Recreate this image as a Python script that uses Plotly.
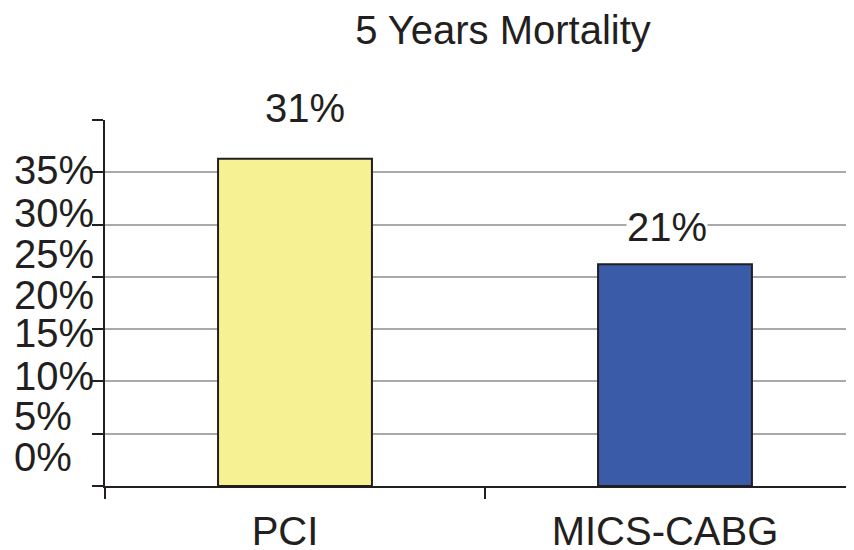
import plotly.graph_objects as go

# ---- data ----
categories = ["PCI", "MICS-CABG"]
mortality = [31.3, 21.2]            # bar heights (% of axis)
value_labels = ["31%", "21%"]
bar_colors = ["#F6F193", "#3A5BA8"]

y_range = [0, 35]
y_tick_vals = [0, 5, 10, 15, 20, 25, 30, 35]
y_label_texts = ["35%", "30%", "25%", "20%", "15%", "10%", "5%", "0%"]
# where the (misplaced) y labels sit, in axis units
y_label_pos = [30.2, 26.1, 22.2, 18.3, 14.6, 10.5, 6.65, 2.75]

# bar value label placement (axis units)
val_label_x = [0.026, 0.98]
val_label_y = [36.15, 24.8]

FONT = "Liberation Sans, Arial, Helvetica, sans-serif"
TXT = "#231f20"
FS = 40

# the page body adds an 8px offset; compensate
OFF = 8
W, H = 854 - OFF, 550 - OFF
L, T, B, R = 105 - OFF, 120 - OFF, 64, 0
plot_w = W - L - R

fig = go.Figure()
fig.add_trace(go.Bar(
    x=categories, y=mortality, width=0.405,
    marker=dict(color=bar_colors, line=dict(color="#231f20", width=2)),
    showlegend=False, hoverinfo="skip",
))

annotations = []
for t, p in zip(y_label_texts, y_label_pos):
    annotations.append(dict(
        text=t, xref="paper", yref="y", x=(12 - 105) / plot_w, y=p,
        xanchor="left", yanchor="middle", showarrow=False,
        font=dict(family=FONT, size=FS, color=TXT),
    ))
for i, t in enumerate(value_labels):
    annotations.append(dict(
        text=t, xref="x", yref="paper", x=val_label_x[i],
        y=(val_label_y[i] - y_range[0]) / (y_range[1] - y_range[0]),
        xanchor="center", yanchor="middle", showarrow=False,
        bgcolor="white", borderpad=0,
        font=dict(family=FONT, size=FS, color=TXT),
    ))

fig.update_layout(
    width=W, height=H,
    margin=dict(l=L, r=R, t=T, b=B, pad=0, autoexpand=False),
    paper_bgcolor="white", plot_bgcolor="white",
    title=dict(text="5 Years Mortality", xref="container", yref="container",
               x=(503 - OFF) / W, y=1 - (30 - OFF) / H, xanchor="center", yanchor="middle",
               font=dict(family=FONT, size=FS, color=TXT)),
    annotations=annotations,
    xaxis=dict(
        type="category", range=[-0.5, -0.5 + plot_w / 380], automargin=False,
        tickson="boundaries", ticks="outside", ticklen=11, tickwidth=2, tickcolor="#231f20",
        showline=True, linecolor="#231f20", linewidth=2, showgrid=False,
        ticklabelstandoff=9, ticklabelshift=-10,
        tickfont=dict(family=FONT, size=FS, color=TXT),
    ),
    yaxis=dict(
        range=y_range, tickmode="array", tickvals=y_tick_vals, showticklabels=False,
        automargin=False,
        ticks="outside", ticklen=11, tickwidth=2, tickcolor="#231f20",
        showline=True, linecolor="#231f20", linewidth=2,
        showgrid=True, gridcolor="#a9a9a9", gridwidth=2, zeroline=False,
    ),
)

fig.write_html("out.html")
